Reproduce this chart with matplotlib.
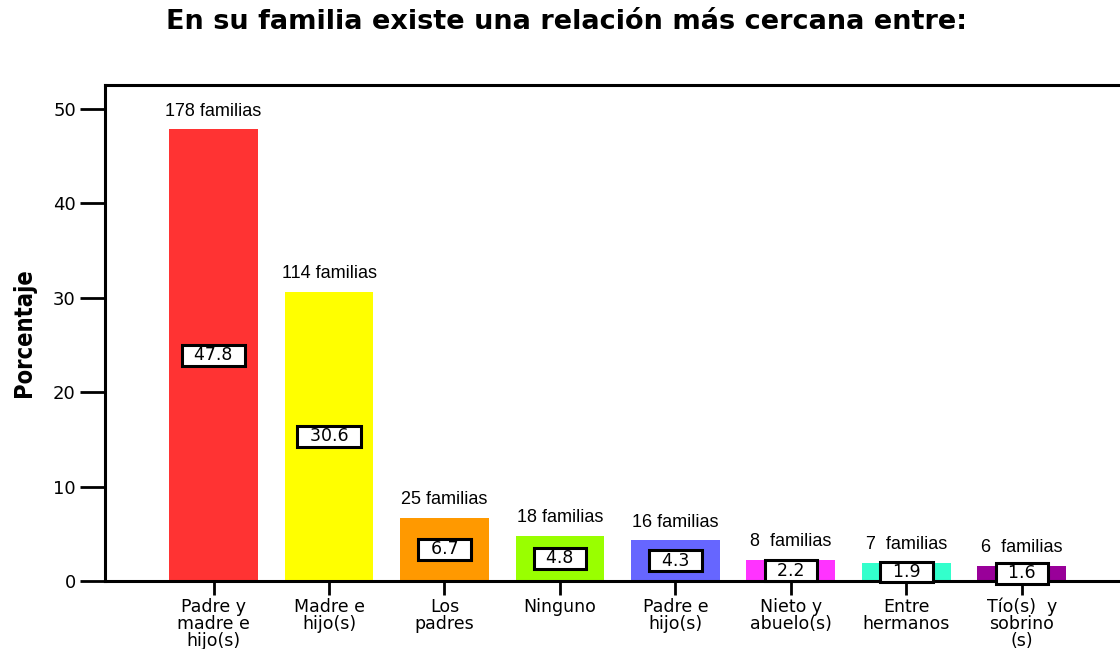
import matplotlib
matplotlib.use("Agg")
import matplotlib.pyplot as plt

categories = ["Padre y\nmadre e\nhijo(s)", "Madre e\nhijo(s)", "Los\npadres", "Ninguno",
              "Padre e\nhijo(s)", "Nieto y\nabuelo(s)", "Entre\nhermanos", "Tío(s)  y\nsobrino\n(s)"]
percent = [47.8, 30.6, 6.7, 4.8, 4.3, 2.2, 1.9, 1.6]
families = ["178 familias", "114 familias", "25 familias", "18 familias", "16 familias",
            "8  familias", "7  familias", "6  familias"]
colors = ["#FF3333", "#FFFF00", "#FF9900", "#99FF00", "#6666FF", "#FF33FF", "#33FFCC", "#990099"]
yticks = [0, 10, 20, 30, 40, 50]

fig = plt.figure(figsize=(11.2, 6.49), dpi=100)
ax = fig.add_axes([105/1120, 1-581/649, 1-105/1120, (581-85)/649])

x = list(range(len(categories)))
ax.bar(x, percent, width=0.77, color=colors, zorder=2)

ax.set_xlim(-0.94, 7.85)
ax.set_ylim(0, 52.5)
ax.set_yticks(yticks)
ax.set_xticks(x)
ax.set_xticklabels(categories, fontsize=12.5, family="DejaVu Sans", linespacing=0.93)
ax.tick_params(axis='y', length=18, width=2, labelsize=13, pad=3)
ax.tick_params(axis='x', length=10, width=2, pad=2)
for lab in ax.get_yticklabels():
    lab.set_family("DejaVu Sans")

for s in ["left", "bottom", "top"]:
    ax.spines[s].set_linewidth(2.2)
ax.spines["right"].set_visible(False)

for xi, p, fam in zip(x, percent, families):
    ax.annotate(fam, (xi, p), xytext=(0, 7), textcoords="offset points",
                ha="center", va="bottom", fontsize=13, family="Liberation Sans")
    ax.text(xi, p/2, f"  {p:.1f}  ", ha="center", va="center", fontsize=12.5,
            family="DejaVu Sans", zorder=5,
            bbox=dict(boxstyle="square,pad=0.08", fc="white", ec="black", lw=2.2))

ax.set_ylabel("Porcentaje", fontsize=17, fontweight="bold", family="DejaVu Sans",
              fontstretch="condensed")
ax.yaxis.set_label_coords(-0.068, 0.50)

fig.text(567/1120, 1-22/649, "En su familia existe una relación más cercana entre:",
         ha="center", va="center", fontsize=19.5, fontweight="bold", family="DejaVu Sans")

fig.savefig("out.png", dpi=100)
